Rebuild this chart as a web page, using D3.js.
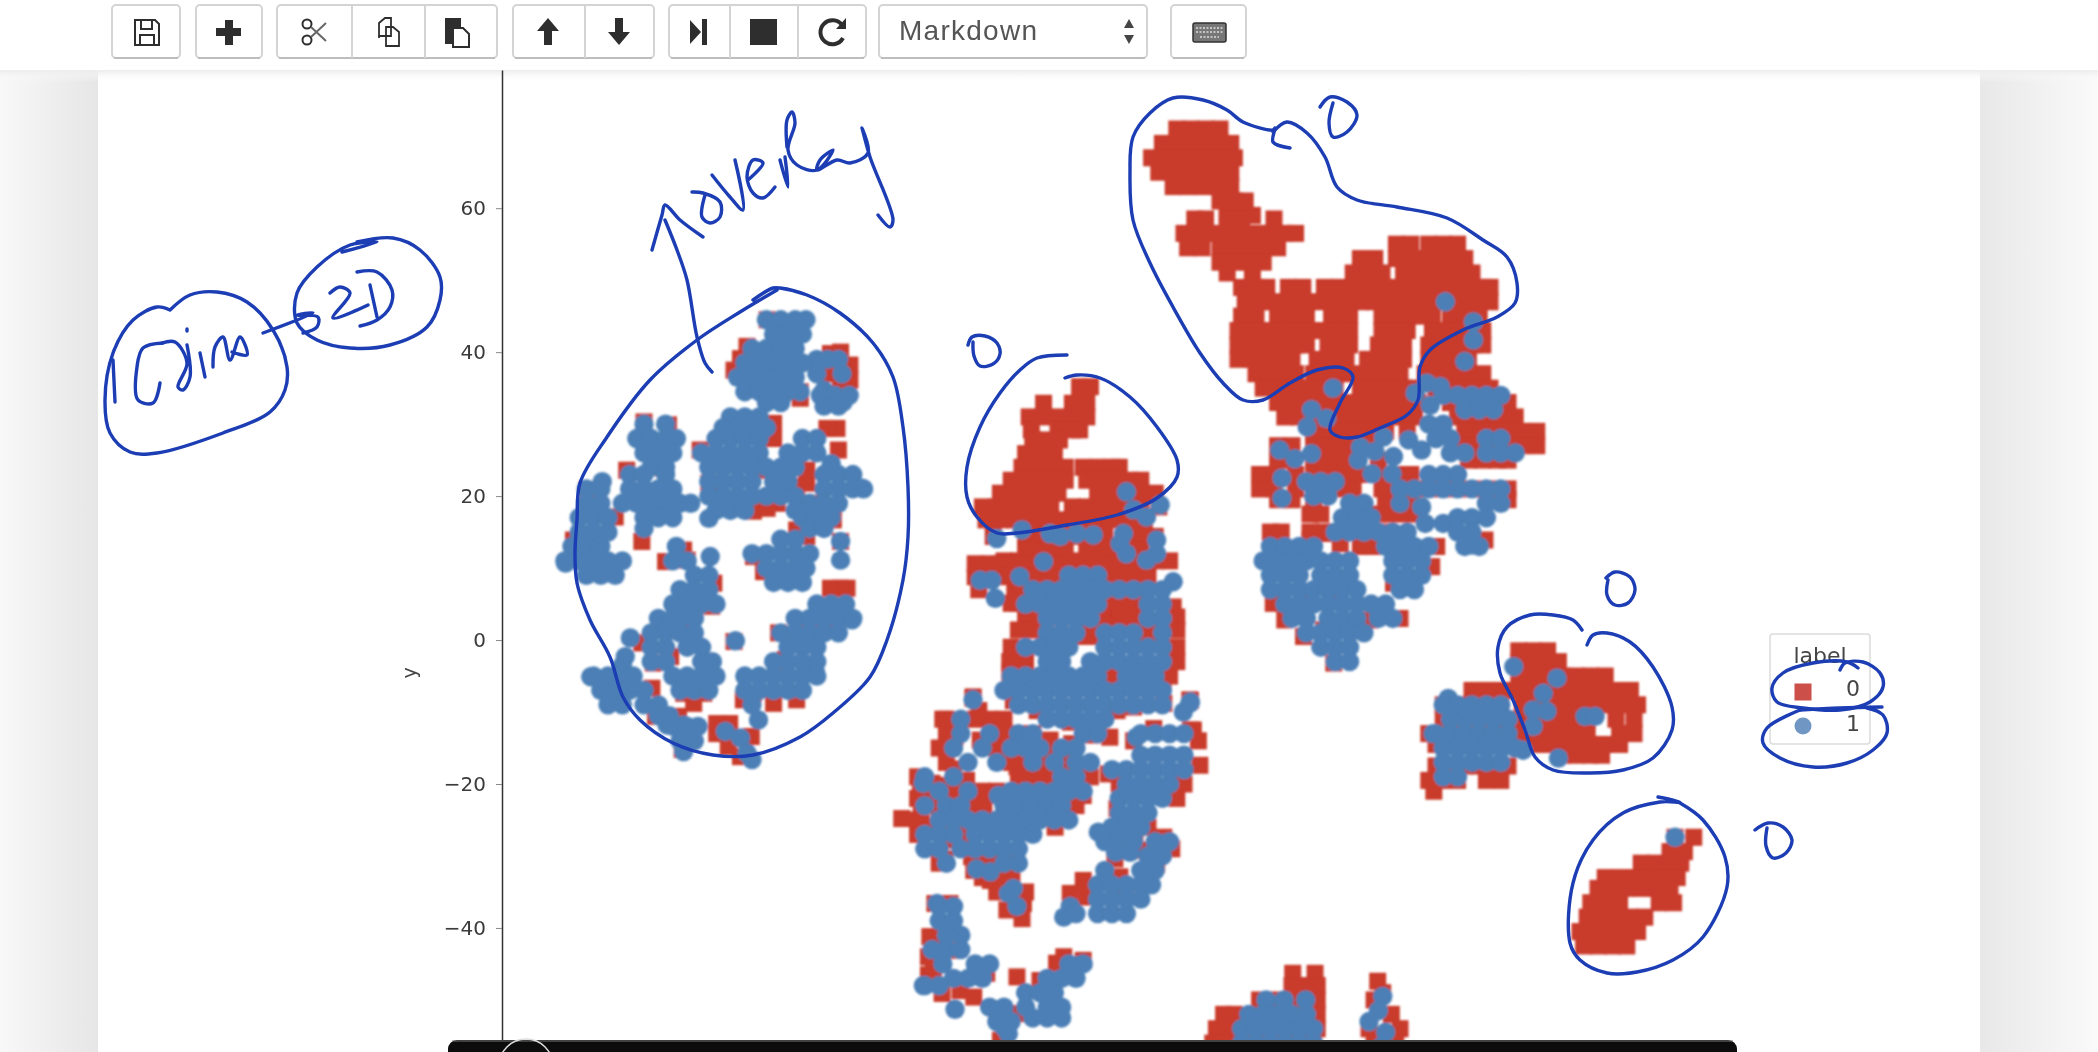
<!DOCTYPE html>
<html>
<head>
  <meta charset="utf-8">
  <title>t-SNE overlay</title>
  <script src="https://d3js.org/d3.v7.min.js"></script>
  <style>
    html, body { margin: 0; padding: 0; background: #fff; overflow: hidden; }
    svg { display: block; }
    text { font-family: "DejaVu Sans", sans-serif; }
  </style>
</head>
<body>
<svg id="chart" width="2098" height="1052"></svg>
<script>

var yTicks = [60, 40, 20, 0, -20, -40]
var legendLabels = ['0', '1']

// label 0, solid areas read row by row: [y, [x, x, ...]]
var redRowsTop = [
  [71,[19,21,23,25]], [69,[17,19,21,23,25,26.5]], [67,[15.5,17.5,19.5,21.5,23.5,25.5,27]],
  [65,[16.5,18.5,20.5,22.5,24.5,26.5]], [63,[18.5,20.5,22.5,24.5,26.5]], [61,[25,27,28.5]],
  [59,[26,28,29.5]], [58.5,[21.5,23,26,28,32.5]], [56.5,[20,22,24,26,28,30,32,34,35.5]],
  [54.5,[20.5,22.5,25,27,29,31,33]], [52.5,[25,27,29,31]], [51,[26,29.5]]
]
var redRowsUpper = [
  [55,[49.5,51.5,54,56,58]], [53,[44.5,46.5,49.5,51.5,53.5,55.5,57.5,59]],
  [51,[43.5,45.5,47.5,50.5,52.5,54.5,56.5,58.5,60]],
  [49,[28,30,31.5,34.5,36.5,39.5,41.5,43.5,45.5,47.5,49.5,51.5,53.5,55.5,57.5,59.5,61.5,62.5]],
  [47,[28.5,30.5,32.5,34.5,36.5,38.5,40.5,42.5,44.5,46.5,48.5,50.5,52.5,54.5,56.5,58.5,60.5,62.5]],
  [45,[28,30,33,35,37,40.5,42,43,47.5,49.5,51,52.5,54.5,57,59,61]],
  [43,[27.5,29.5,31.5,33.5,35.5,37.5,39.5,41.5,43,47.5,49.5,51,54.5,56.5,58.5,60.5,61.5]],
  [41,[27.5,29.5,31.5,33.5,35.5,37,40,42,43,47,49,50.5,54,56,58,60,61.5]],
  [39,[27.5,29.5,31.5,33.5,35,38.5,40.5,42.5,45.5,47,49,50.5,54,56,58,59.5]],
  [37,[30,32,34,35.5,38,40,42,44,46,48,50,53.5,55.5,57.5,59.5,61.5]],
  [35,[31,33,35,37,39,41,44.5,46.5,48.5,50.5,52,55,57,59,61,62.5]],
  [33,[33,35,37,39,41,43,45,47,49,51,52.5,57,59,61,63,65]],
  [31,[34,36,38,40,42,44,46,48,50,52,58,60,62,64,66]],
  [29,[38,40,42,44,46,48,51,59,61,63,65,67,69]],
  [27,[33,35,38,40,42,44,46,59,61,63,65,67,69]],
  [25,[33,35,38,40,42,44,47,59.5,61.5,63.5,65]],
  [23,[30.5,32.5,35.5,38,40,42,44,46,48,50,51.5]],
  [21,[30.5,32.5,35.5,38,42,43.5,47.5,49.5,51.5,53.5,55.5,57.5,59.5,61.5,63.5,65]],
  [19.5,[33,35,38,48,50,51.5,63,65]], [17.5,[37.5,39,46,48,50,52]],
  [15,[32,33.5,37.5,39.5,41,46,48]], [13,[44.5,46.5,48.5,50]]
]
var redLowerD = [
  [32.2,13.9],[32.4,5.1],[34,2.8],[36.6,0.5],[40.8,-3.2],[50,3],[45.8,2.8],[49.1,7.9],[54.4,10.2],
  [55.1,13],[36.6,11.6],[37,6],[39.4,1.4],[40.3,5.6],[37.5,13.9],[39.8,14.8],[41.7,13.4],[61.8,13.9]
]
var redRowsB = [
  [35.2,[5.5,7]], [32.9,[0.5,4.5,6.5]], [31,[-1.5,0.5,2.5,4.5,6.5]], [29.2,[-1.2,2.5,4.5,5.5]],
  [27.8,[-1,1,2.7]], [25.9,[-2,0,2]], [24,[-2.5,-0.5,1.5,3.5,6,8,10,11]],
  [22.2,[-4,-2,0,2,3.5,6.5,8.5,10.5,12.5,14]], [20.4,[-5.5,-3.5,-1.5,0.5,2.5,8,10,12,14,16]],
  [18.5,[-8,-6,-4,-2,0,1.5,4.5,6.5,8.5,10,12,14,16.5]],
  [16.7,[-7.5,-5.5,-3.5,-1.5,0.5,2.5,4.5,6.5,8.5,10.5,12.5,14.5]],
  [14.4,[-6.5,-2,0,2,3.5,5,7,9,12,14,16]], [12.5,[-2,0,2,3.5,6.5,8.5,10,12,14]],
  [11,[-5,-3,-1,1,3,5,7,9,14,16,18]], [10.6,[-9,-7,-5.5,-3.5,-1.5,0.5,2.5,10,12]], [9,[-5,-3,-1,1,3,9,11,13,15]],
  [8.8,[-9,-7,-4.5,-2.5]], [7,[-8.5,-3.5,-2.5,7,9]], [5.1,[-4,-3,-1,10,12,13]], [3.2,[-2,0,1.5,3,9,11,13,19]],
  [1.4,[-3,-1,7,9,15,19]], [-1,[-4,19]], [-3,[-4,-2,19]], [-5,[10,18]]
]
var redLowerB = [
  [5.1,0.5],[7.4,0.5],[13.9,0.5],[15.8,0.5],[-3.7,-1.9],[-4.2,-3],[-4.2,-4.5],[-4.2,-7],[-9.3,-7.9],
  [17.1,-6],[20.8,-8.3],[8.8,-5.1],[9.3,1.9],[11.1,3],[14.8,0],[14.6,4.2],[18.5,4.6]
]
var redC = [
  [-19.2,-24.8],[-16.6,-20.4],[-15,-19.9],[-14.1,-20.2],[-12,-22],[-10.2,-19.5],[-9,-23],[-7.8,-23],
  [-5.5,-21.6],[-8.5,-9.8],[-9.3,-8.1],[-11.8,-13.5],[-8.3,-13.9],[-6.9,-14.4],[-12,-17.9],[-3.2,-17.6],
  [-1.8,-17.2],[-2.8,-20.2],[4.4,-14.4],[1.4,-13.9],[1.6,-19.5],[6,-21.6],[-3.2,-25],[2.1,-26],[0.7,-24.6],
  [-13.2,-30.4],[-12.5,-27.8],[-16,-26],[-9.5,-30.1],[-9.2,-32],[-6.9,-33.4],[-5.1,-33.4],[-3.9,-32.9],
  [-4.6,-37.5],[-2.5,-38.7],[-2.3,-36.6],[9.5,-18.6],[10.7,-23.4],[13.9,-29.2],[10.4,-30.4],[13.2,-26.9],
  [17.2,-27.4],[18.3,-29],[16.2,-31.1],[6,-33.4],[4.2,-35.2],[6.5,-35.7],[11.1,-32.9],[11.8,-35.2],
  [15.8,-12.3],[20.9,-12.5],[22.2,-17.4],[20.9,-8.4],[21.3,-12.5],[-12.5,-36.6],[-14.6,-36.6],[-15,-42.2],
  [-15.3,-41.2],[-12.5,-43.1],[-14.8,-45.9],[-13.6,-49.1],[-11.1,-48.7],[-7.4,-46.3],[-9.2,-49.6],
  [-3.2,-46.8],[0,-47.3],[2.3,-44.9],[3.3,-44],[6,-44.5],[-3.2,-51.9],[-6,-51.2],[-5.5,-55.6],[-3.7,-8.4],
  [-3.7,-7],[-0.4,-9.8],[9.7,-13.5],[7.2,-13.2],[10.7,-9.8],[13,-9.3],[17.2,-8.8],[16.7,-6],[9.3,-6],
  [6.5,-6.3],[4.2,-11.4],[-17,-19],[-17,-22],[-16.5,-24],[-13.5,-11],[-12.5,-15],[-15.5,-44],[-15.5,-46.5]
]
var redRowsC = [
  [-11,[-13,-9,-7,-5]], [-13,[-13,-5,-3,-1]], [-14,[13,22]], [-15,[-14,-6,-4,-2,2]], [-17,[-13,-4,-2,0,4]],
  [-19,[-3,-1,1,3,7]], [-20,[11,20]], [-21,[-16,-12,-8,-6]], [-22,[19]], [-23,[-15,-13,-5,1,5]],
  [-25,[-17,-14,-11,-8]], [-26,[15]], [-27,[-17,-11]], [-31,[-14,-8,-6,-4]], [-33,[-8,-6,-4]], [-35,[-6,-4,-2]]
]
var redRowsE = [
  [-1.5,[66.5,68.5,70.5]], [-3,[66.5,68.5,70.5,72]], [-5,[66.5,68.5,70.5,72.5,74.5,76.5,78.5]],
  [-7,[60,62,64,66,68,70,72,74,76,78,80,82]], [-9,[56,58,60,62,64,67,69,71,73,75,77,79,81,83]],
  [-11,[56,58,60,62,64,66,68,70,72,74,76,80,82.5]], [-13,[54,56,58,60,62,64,66,68,70,72,74,76,80.5,82.5]],
  [-14.5,[55,57,59,61,63,65,67,68.5,70.5,72.5,74.5,76.5,78.5,80.5]], [-16,[72.5,74.5,76.5,78]],
  [-17.5,[55,57,59,61,63,65]], [-19.5,[54,56,58,62,64]], [-21,[54.7]]
]
var redRowsF = [
  [-27.4,[88.2,90.8]], [-29.4,[87.5,89.5]], [-31,[83.5,85.5,87.5,89]], [-33,[78.5,80.5,82.5,84.5,86.5,88.5]],
  [-34.5,[77.5,79.5,81.5,83.5,85.5,87.5]], [-36.5,[76.5,78.5,80.5,86,88]], [-38.5,[76,78,80,82,84]],
  [-40.5,[75,77,79,81,83]], [-42.5,[75.5,77.5,79.5,81.5]]
]
var redRowsBottom = [
  [-46.3,[35.1,38.2]], [-48,[35,37,38.5]], [-50,[30.5,32.5,34.5,36.5,38.5,46.4]], [-52,[25.5,27,30,32,34,36,38.5,48.8]],
  [-54,[24.5,26.5,28.5,30.5,34,36,38.5,45.7,50]], [-56,[24,26,28,30,32,34,36,38,46.4,49.4]], [-47.4,[46.9]], [-49,[47.6]]
]
var redA = [
  [-37.9,44.5],[-34.2,41.7],[-40.7,40.8],[-41.6,39.1],[-42.5,37.5],[-29.1,39.8],[-27.7,40],[-26.4,38.2],
  [-26.4,36.1],[-27.7,35.7],[-29.4,37],[-33.3,34.5],[-33.3,33.6],[-37,30.1],[-37,28],[-28.2,29.4],[-29.6,29.4],
  [-28,26.4],[-47.2,26.4],[-38.8,23.6],[-32.4,23.6],[-32.4,21.8],[-33.8,21.3],[-39.8,17.9],[-37.9,18.3],
  [-36.5,19],[-55,30.3],[-51.6,29.9],[-57.4,23.6],[-52.3,23.9],[-55.3,13.7],[-59,17.1],[-62.9,20.9],[-64.8,13.9],
  [-52,10.9],[-49.5,12.5],[-46,21.8],[-31.4,19],[-28.7,16.7],[-27.7,13.7],[-33.8,15.3],[-32.4,14.4],[-39.8,11.6],
  [-38.4,9.5],[-49,11.1],[-27.7,7.2],[-29.1,7.2],[-26.8,7.2],[-45.6,4.7],[-45.3,7.9],[-50.4,2.3],[-49,1.4],
  [-55.3,-0.4],[-42.5,-0.2],[-53.7,-3.2],[-51.3,-2.3],[-53.9,-6.7],[-49.5,-7.4],[-46.7,-7.4],[-48.1,-8.8],
  [-53.4,-10.6],[-50.2,-10.6],[-44.9,-11.6],[-43.1,-11.6],[-44.9,-13],[-43.3,-14.8],[-40.1,-13.4],[-41.6,-16.2],
  [-49.7,-15.2],[-41.2,-8.3],[-37,-8.8],[-33.8,-8.3],[-39.8,-7.4],[-36.3,1],[-36.1,-3.2],[-35.4,-2.7],[-32.8,2.6],
  [-31.2,2.4],[-29.4,2.8]
]

// label 1, single points
var blueA = [
  [-33.3,34.5],[-30,34.7],[-27.3,33.1],[-27.7,11.1],[-27.7,13.7],[-46,16.9],[-24.7,21.1],[-60.8,22],[-45.8,11.6],[-42.3,-0.1],
  [-56.9,0.3],[-57.6,-2.3],[-43.7,-12.7],[-41.6,-13.6],[-40.7,-15.7],[-40,-16.6],[-39.1,-11.1],[-40,-9],[-49.5,-11.8],[-51.8,-11.8],
  [-31.2,-4.4],[-26.1,2.8],[-65.9,10.7],[-62.4,-5.1]
]
var blueB = [[-6,14.1],[-2.5,15.3],[1.4,14.8],[2.8,14.4],[5.1,14.8],[7.4,14.6],[12,20.6],[13,18.1],[14.8,17.1],[16.7,18.8],[11.1,13.4],
  [11.6,14.8],[12,12],[16.2,13.9],[16.2,12],[14.8,11.1],[-8.3,8.3],[-6.7,8.3],[-6.2,5.8],[0.5,10.9],[-2.8,8.8],[18.5,8.1],[20.8,-8.8],[-9.3,-8.3]
]
var blueC = [
  [-16.2,-19.9],[-5.8,-21.6],[8.1,-26.7],[13.4,-13.5],[-14.3,-36.6],[-11.8,-51.3],[5.3,-45.2],[4.2,-37],[3.3,-38.5],[-16.2,-48],
  [-8.8,-31.8],[-6.9,-32.2],[-4.4,-35.2],[-3.2,-37],[-3.7,-34.5],[-5.1,-53.7],[-4.4,-54.7],[19.9,-10],[20.9,-8.6],[17.2,-28.3]
]
var blueD = [
  [56.3,47],[60.2,44.2],[60.2,41.7],[59,38.7],[40.7,35],[37.7,32],[39.8,30.8],[37.1,29.6],[33.3,26.4],[35.4,25.2],[37.7,25.9],
  [44.5,26.8],[46.5,26.2],[44.2,25],[49.1,25.5],[47.7,28.2],[51.2,27.8],[53,26.4],[54.2,32.6],[33.6,22.5],[33.6,19.7],[46.1,23.1],
  [48.9,23.1],[53,18.5],[53.5,16.2],[56,16.2],[60,13.2],[52.1,34.3],[53.7,35.7],[55.6,35.2]
]
var blueE = [[56.7,-8.1],[65.8,-3.7],[71.8,-5.3],[69.9,-7.4],[68.5,-9.7],[70.4,-9.9],[75.7,-10.6],[77.1,-10.6],[72,-16.4],[68.5,-12],[54.6,-13],[67.1,-15.3]]
var blueF = [[88.2,-27.4]]

// label 1, dense blobs read row by row
var blueRowsA = [
  [44.5,[-38,-36,-34,-32.5]], [42.5,[-37,-35,-33]], [40.5,[-40,-38,-36,-34]], [39,[-31,-29.5,-28]],
  [38.5,[-41,-39,-37,-35,-33]], [37,[-31,-27.5]], [36.5,[-42,-40,-38,-36,-34]], [34.5,[-41,-39,-37,-35]],
  [34,[-30.5,-28.5,-26.5]], [33,[-38,-36]], [32.5,[-30,-28]], [31,[-43,-41,-39]], [29.5,[-44,-42,-40,-38]],
  [30,[-55,-52]], [28,[-45,-43,-41,-39,-33,-31,-56,-54,-52,-50.5]], [26,[-47,-45,-43,-41,-39,-35,-33,-31,-55,-53,-51]],
  [24.5,[-29]], [24,[-46,-44,-42,-40,-38,-36,-34,-54,-52]], [23,[-30,-28,-26,-57,-55,-52]],
  [22,[-46,-44,-42,-40,-37,-35]], [21,[-30,-28,-26,-24.5,-57,-55,-53,-51,-61,-63]],
  [20,[-46,-44,-42,-40,-38,-36,-34]], [19,[-32,-30,-28,-58,-56,-54,-52,-50,-48.5,-63,-61]],
  [18,[-45,-43,-41,-34,-32]], [17,[-33,-31,-29,-55,-53,-51,-64,-62,-60]], [15.5,[-32,-30,-55]],
  [15,[-64,-62,-60]], [14,[-36,-34]], [13,[-65,-63,-61,-50.5]], [12,[-40,-38,-36,-34,-32]],
  [11,[-66,-64,-62,-60,-58,-51,-49]], [10,[-38,-36,-34,-32.5]], [9,[-63,-61,-59,-48,-46]], [8,[-37,-35,-33]],
  [7,[-50,-48,-46]], [5,[-51,-49,-47,-45,-31,-29,-27]], [3,[-50,-48,-53,-51,-34,-32,-30,-28,-26]],
  [1,[-54,-52,-50,-48,-36,-34,-32,-30,-28]], [-1,[-54,-52,-49,-47,-35,-33,-31]], [-3,[-54,-52,-47,-45.5,-37,-35,-33,-31]],
  [-3.5,[-58]], [-5,[-51,-49,-47,-45,-62,-60,-58,-56.5,-41,-39,-37,-35,-33,-31]], [-7,[-50,-48,-46,-61,-59,-57,-55,-41,-39,-37,-35,-33]],
  [-9,[-60,-58,-55,-53]], [-10.5,[-53,-51.5]], [-12,[-51,-49,-47.5]], [-14,[-50,-48]], [-15.5,[-49.5]]
]
var blueRowsB = [
  [9,[4,6,8]], [7,[-1,1,3,5,7,9,11,13,15,17]], [5,[-2,0,2,4,6,8,15,17]], [3,[1,3,5,7,15,17]],
  [1,[1,3,5,9,11,13,17]], [-1,[-2,0,2,4,9,11,13,15,17]], [-3,[1,3,7,9,11,13,15,17]],
  [-5,[-4,-2,0,2,4,6,8,12,14,16]], [-7,[-5,-3,-1,1,3,5,7,9,11,13,15,17]], [-9,[-3,-1,1,3,5,7,9,11,13,15,17]]
]
var blueRowsC = [
  [-11,[-11,1,3,5,7,9]], [-13,[-11,-7,-3,-1,6,8,14,16,18,20]], [-15,[-12,-8,-4,-2,0,3,5]],
  [-16,[14,16,18,20]], [-17,[-10,-6,-1,2,5,7]], [-18,[10,12,14,16,18,20]], [-19,[-16,-12,3,5]],
  [-20,[12,14,16,18]], [-21,[-14,-10,-4,-2,0,2,4,6]], [-22,[11,13,15,17]], [-23,[-16,-13,-11,-5,-3,-1,1,3]],
  [-24,[11,13,15]], [-25,[-14,-12,-10,-8,-6,-4,-2,0,2,4]], [-26,[10,12,14]], [-27,[-16,-14,-12,-9,-7,-5,-3,-1]],
  [-28,[9,11,13,16,18]], [-29,[-16,-14,-11,-9,-7,-5,-3]], [-29.5,[10.5,12.5]], [-30,[15,17]], [-31,[-13,-5,-3]],
  [-32,[9,14,16]], [-34,[8,10,12,14,15.5]], [-36,[8,10,12,14]], [-38,[5,8,10,12]],
  [-37,[-14,-12]], [-39,[-14,-12]], [-41,[-13,-11]], [-43,[-15,-13,-11]], [-45,[-13.5,-9,-7,4,6]],
  [-47,[-12,-10,-8,1,3,5]], [-48,[-16,-14]], [-49,[-2,0,2]], [-51,[-7,-5,-2,1,3]], [-52.5,[-1,1,3]], [-53,[-6,-4]]
]
var blueRowsD = [
  [34,[56,58,60,62,64]], [32,[59,61,63]], [30,[54,56]], [28,[55,57,62,64]], [26,[57,59,62,64,66]],
  [23,[54,56,58]], [22,[37,39,41]], [21,[50,52,54,56,58,60,62,64]], [20,[38,40]], [19,[43,45,50,62,64]],
  [17,[42,44,46,58,60,62]], [15,[41,43,45,47,49,51,58,60]], [13,[32,34,36,38,48,50,52,54,59,61]],
  [11,[31,33,35,37,39,41,43,49,51,53]], [9,[32,34,36,39,41,43,49,51,53]], [7,[32,34,36,38,40,42,44,50,52]],
  [5,[34,36,38,40,42,44,46,48]], [3,[35,37,40,42,44,47,49]], [1,[37,39,41,43,45]], [-1,[39,41,43]], [-3,[41,43]]
]
var blueRowsE = [
  [-9,[56,58,60,62,64]], [-11,[57,59,61,63,65]], [-13,[55,57,59,61,63,65]],
  [-15,[56,58,60,62,64,66]], [-17,[56,58,60,62,64]], [-19,[56,58]]
]
var blueRowsBottom = [
  [-50,[31.4,36.9,33.9]], [-52,[29,31,33,35,37]], [-54,[28,30,32,34,36,38]], [-56,[28,30,32,34,36,38]],
  [-49.5,[47.6]], [-51.5,[47]], [-53,[45.7]], [-54.5,[48]], [-56.5,[47.4]]
]

function rows(list) {
  return list.flatMap((r) => r[1].map((x) => [x, r[0]]))
}

var labelZero = rows(redRowsTop).concat(rows(redRowsUpper), redLowerD, rows(redRowsB), redLowerB, redC, rows(redRowsC),
  rows(redRowsE), rows(redRowsF), rows(redRowsBottom), redA)
var labelOne = blueA.concat(blueB, blueC, blueD, blueE, blueF, rows(blueRowsA), rows(blueRowsB), rows(blueRowsC),
  rows(blueRowsD), rows(blueRowsE), rows(blueRowsBottom))

// pen annotations on top of the notebook, screen pixels
var inkStrokes = [
  // big oval left cluster
  [[753,300],[773,288],[780,288],[807,295],[840,313],[873,343],[893,377],[903,427],[908,487],[908,537],[903,580],[887,640],[870,677],[833,713],[800,737],[753,755],[713,755],[673,743],[640,720],[623,697],[610,657],[590,620],[577,583],[575,553],[577,520],[580,483],[607,437],[650,380],[697,340],[740,312],[777,290]],
  // arrow + overlay
  [[665,220],[677,250],[687,280],[697,337],[705,363],[712,372]],
  [[652,250],[662,215],[665,205],[680,220],[703,237]],
  [[692,192],[703,193],[720,202],[720,217],[710,223],[702,217],[705,195]],
  [[712,175],[730,197],[743,210],[735,160]],
  [[748,180],[763,163],[753,160],[747,177],[753,193],[763,198],[775,187]],
  [[780,160],[788,187],[785,157]],
  [[787,147],[787,120],[792,112],[795,123],[788,150],[797,165],[817,170],[833,150],[820,160],[817,170],[837,160],[850,163],[868,153],[862,128],[870,157],[893,220],[890,227],[878,215]],
  // 15 dim
  [[170,310],[157,307],[133,320],[113,353],[105,400],[110,433],[130,452],[157,453],[223,433],[270,412],[285,390],[287,367],[273,330],[247,302],[217,292],[190,295],[170,310]],
  [[113,360],[115,402]],
  [[163,343],[143,348],[137,367],[138,400],[153,403],[160,383]],
  [[162,343],[175,342],[187,363],[178,387],[183,390],[190,377],[187,345]],
  [[187,329],[187,331]],
  [[200,353],[205,377]],
  [[213,367],[215,347],[223,337],[230,360],[240,337],[247,355],[232,352]],
  [[263,333],[313,313],[297,315],[318,317],[317,327],[303,333]],
  // 2D
  [[342,252],[377,242],[350,245],[317,267],[297,293],[297,323],[317,340],[350,348],[390,345],[427,327],[440,300],[440,277],[420,250],[393,238],[357,242]],
  [[330,293],[340,287],[350,293],[333,318],[368,305]],
  [[357,272],[377,272],[392,290],[390,307],[377,320],[360,326]],
  [[370,285],[377,317]],
  // 0 and oval, middle cluster
  [[968,345],[972,337],[985,336],[997,343],[1000,354],[993,364],[980,366],[974,356],[973,342]],
  [[1065,378],[1077,375],[1100,378],[1130,397],[1157,427],[1177,460],[1177,477],[1157,498],[1117,515],[1067,525],[1017,533],[997,533],[977,517],[967,497],[967,467],[980,427],[1000,393],[1020,370],[1037,358],[1067,355]],
  // top right blob
  [[1290,148],[1273,142],[1275,128],[1273,130],[1243,122],[1227,110],[1203,100],[1173,98],[1150,113],[1133,137],[1130,173],[1133,220],[1150,263],[1173,307],[1200,353],[1223,383],[1243,400],[1263,400],[1290,383],[1317,370],[1343,368],[1353,377],[1340,403],[1330,430],[1340,437],[1357,437],[1380,428],[1407,415],[1418,400],[1420,367],[1430,350],[1463,330],[1497,317],[1515,303],[1517,283],[1507,257],[1483,240],[1447,218],[1397,207],[1357,200],[1337,187],[1325,157],[1307,133],[1287,122],[1273,132]],
  [[1320,107],[1330,97],[1347,102],[1357,115],[1347,132],[1333,137],[1329,123],[1333,103]],
  // right clusters
  [[1606,578],[1615,572],[1630,577],[1635,590],[1628,603],[1615,605],[1607,595],[1608,580]],
  [[1582,630],[1573,620],[1553,615],[1530,615],[1507,627],[1498,647],[1500,673],[1513,700],[1525,730],[1535,757],[1553,770],[1590,773],[1623,770],[1653,758],[1672,730],[1672,707],[1653,667],[1630,642],[1607,633],[1593,635],[1587,645]],
  [[1658,797],[1680,802],[1660,802],[1623,813],[1593,840],[1573,883],[1570,943],[1580,960],[1607,973],[1637,972],[1673,960],[1703,937],[1727,887],[1725,857],[1703,820],[1680,803]],
  [[1755,830],[1768,823],[1783,827],[1792,840],[1786,853],[1773,858],[1766,846],[1767,828]],
  // legend
  [[1840,670],[1845,663],[1863,662],[1880,673],[1883,687],[1870,702],[1840,710],[1803,708],[1777,702],[1772,688],[1783,673],[1813,663],[1847,662],[1858,668]],
  [[1800,710],[1840,708],[1882,707]],
  [[1867,708],[1883,715],[1887,733],[1873,750],[1847,763],[1813,767],[1780,758],[1763,743],[1767,728],[1800,710]]
]

var svg = d3.select('#chart')

var x = d3.scaleLinear().domain([0, 100]).range([1040, 1760])
var y = d3.scaleLinear().domain([79.2, -56.4]).range([70, 1046])

// page background
var defs = svg.append('defs')
var shL = defs.append('linearGradient').attr('id', 'shL')
shL.append('stop').attr('offset', 0).attr('stop-color', '#f8f8f8')
shL.append('stop').attr('offset', 1).attr('stop-color', '#e6e6e6')
var shR = defs.append('linearGradient').attr('id', 'shR')
shR.append('stop').attr('offset', 0).attr('stop-color', '#e8e8e8')
shR.append('stop').attr('offset', 1).attr('stop-color', '#fafafa')
var shT = defs.append('linearGradient').attr('id', 'shT').attr('x2', 0).attr('y2', 1)
shT.append('stop').attr('offset', 0).attr('stop-color', '#ececec')
shT.append('stop').attr('offset', 1).attr('stop-color', '#ffffff').attr('stop-opacity', 0)
defs.append('filter').attr('id', 'soft').append('feGaussianBlur').attr('stdDeviation', 0.8)
defs.append('filter').attr('id', 'softer').append('feGaussianBlur').attr('stdDeviation', 0.45)

svg.append('rect').attr('width', 98).attr('height', 1052).attr('fill', 'url(#shL)')
svg.append('rect').attr('x', 1980).attr('width', 118).attr('height', 1052).attr('fill', 'url(#shR)')
svg.append('rect').attr('y', 70).attr('width', 2098).attr('height', 12).attr('fill', 'url(#shT)')

// scatter, red squares under blue circles
var plot = svg.append('g').attr('filter', 'url(#soft)')
plot.selectAll('rect.zero').data(labelZero).enter().append('rect')
  .attr('class', 'zero')
  .attr('x', (d) => x(d[0]) - 8.5)
  .attr('y', (d) => y(d[1]) - 8.5)
  .attr('width', 17)
  .attr('height', 17)
  .attr('fill', '#c93a2b')
plot.selectAll('circle.one').data(labelOne).enter().append('circle')
  .attr('class', 'one')
  .attr('cx', (d) => x(d[0]))
  .attr('cy', (d) => y(d[1]))
  .attr('r', 9.7)
  .attr('fill', '#4b7fb5')

// y axis
var axis = svg.append('g').attr('transform', 'translate(502,0)').attr('filter', 'url(#softer)')
  .call(d3.axisLeft(y).tickValues(yTicks).tickSizeInner(6).tickSizeOuter(0).tickPadding(10).tickFormat(d3.format('d')))
axis.selectAll('text').attr('font-size', 20).attr('fill', '#3a3a3a').attr('font-family', '"DejaVu Sans", sans-serif')
axis.selectAll('.tick line').attr('stroke', '#888').attr('stroke-width', 1)
axis.select('.domain').attr('stroke', '#333').attr('stroke-width', 1.5)

svg.append('text').attr('transform', 'translate(416,673) rotate(-90)')
  .attr('text-anchor', 'middle').attr('font-size', 19).attr('fill', '#444').attr('filter', 'url(#softer)').text('y')

// legend
var legend = svg.append('g').attr('filter', 'url(#softer)')
legend.append('rect').attr('x', 1770).attr('y', 634).attr('width', 100).attr('height', 110).attr('rx', 3)
  .attr('fill', '#fff').attr('stroke', '#dcdcdc').attr('stroke-width', 1.5)
legend.append('text').attr('x', 1820).attr('y', 663).attr('text-anchor', 'middle').attr('font-size', 22).attr('fill', '#444').text('label')
legend.append('rect').attr('x', 1794.5).attr('y', 683.5).attr('width', 17).attr('height', 17).attr('fill', '#cc4f48')
legend.append('circle').attr('cx', 1803).attr('cy', 726).attr('r', 8.5).attr('fill', '#6f97c4')
legend.selectAll('text.lab').data(legendLabels).enter().append('text').attr('class', 'lab')
  .attr('x', 1853).attr('y', (d, i) => 696 + i * 35)
  .attr('text-anchor', 'middle').attr('font-size', 22).attr('fill', '#444').text((d) => d)

// pen strokes
var ink = d3.line().curve(d3.curveCatmullRom.alpha(0.5))
svg.append('g').attr('filter', 'url(#softer)').selectAll('path').data(inkStrokes).enter().append('path')
  .attr('d', ink)
  .attr('fill', 'none')
  .attr('stroke', '#1a3db4')
  .attr('stroke-width', 3.4)
  .attr('stroke-linecap', 'round')
  .attr('stroke-linejoin', 'round')

// notebook toolbar
var bar = svg.append('g')
bar.append('rect').attr('width', 2098).attr('height', 70).attr('fill', '#fff')

var groups = [
  {x: 112, w: 68, div: []},
  {x: 196, w: 66, div: []},
  {x: 277, w: 220, div: [352, 425]},
  {x: 513, w: 141, div: [585]},
  {x: 669, w: 197, div: [730, 798]},
  {x: 879, w: 268, div: []},
  {x: 1171, w: 75, div: []}
]
var btn = bar.append('g').attr('filter', 'url(#softer)')
groups.forEach((g) => {
  btn.append('rect').attr('x', g.x).attr('y', 5).attr('width', g.w).attr('height', 53).attr('rx', 4)
    .attr('fill', '#fff').attr('stroke', '#d4d4d4').attr('stroke-width', 2)
  btn.append('line').attr('x1', g.x + 2).attr('x2', g.x + g.w - 2).attr('y1', 58).attr('y2', 58)
    .attr('stroke', '#bdbdbd').attr('stroke-width', 2)
  g.div.forEach((dx) => {
    btn.append('line').attr('x1', dx).attr('x2', dx).attr('y1', 5).attr('y2', 58).attr('stroke', '#d4d4d4').attr('stroke-width', 2)
  })
})

var icon = '#2f2f2f'
// save
btn.append('path').attr('d', 'M135 20h20l4 4v21h-24z M141 20v9h11v-9 M140 45v-10h14v10').attr('fill', 'none').attr('stroke', icon).attr('stroke-width', 2)
// plus
btn.append('path').attr('d', 'M225 20h8v8h8v8h-8v9h-8v-9h-9v-8h9z').attr('fill', icon)
// cut
btn.append('circle').attr('cx', 307).attr('cy', 40).attr('r', 4.5).attr('fill', 'none').attr('stroke', icon).attr('stroke-width', 2)
btn.append('circle').attr('cx', 307).attr('cy', 24).attr('r', 4.5).attr('fill', 'none').attr('stroke', icon).attr('stroke-width', 2)
btn.append('path').attr('d', 'M311 27l15 14M311 37l15 -14').attr('stroke', '#666').attr('stroke-width', 2)
// copy
btn.append('path').attr('d', 'M379 38v-15l6 -5h6v18h-12 M386 27h7l6 5v14h-13z').attr('fill', '#fff').attr('stroke', icon).attr('stroke-width', 1.8)
// paste
btn.append('path').attr('d', 'M445 18h16v26h-16z').attr('fill', icon)
btn.append('path').attr('d', 'M453 28h10l6 6v13h-16z').attr('fill', '#fff').attr('stroke', icon).attr('stroke-width', 2)
// up, down
btn.append('path').attr('d', 'M548 18l11 13h-7v14h-8v-14h-7z').attr('fill', icon)
btn.append('path').attr('d', 'M619 45l-11 -13h7v-14h8v14h7z').attr('fill', icon)
// step, stop, restart
btn.append('path').attr('d', 'M690 20l11 12l-11 12z M702 19h5v26h-5z').attr('fill', icon)
btn.append('rect').attr('x', 750).attr('y', 19).attr('width', 27).attr('height', 26).attr('fill', icon)
btn.append('path').attr('d', 'M842 25a12 12 0 1 0 1 13').attr('fill', 'none').attr('stroke', icon).attr('stroke-width', 4)
btn.append('path').attr('d', 'M846 18v11h-10z').attr('fill', icon)
// cell type select
btn.append('text').attr('x', 899).attr('y', 40).attr('font-size', 28)
  .attr('fill', '#555').attr('style', 'font-family:"Liberation Sans",sans-serif').attr('textLength', 138).text('Markdown')
btn.append('path').attr('d', 'M1129 19l5 9h-10z M1129 44l-5 -9h10z').attr('fill', '#444')
// keyboard
btn.append('rect').attr('x', 1193).attr('y', 23).attr('width', 33).attr('height', 19).attr('rx', 2).attr('fill', '#777').attr('stroke', '#333').attr('stroke-width', 1.5)
btn.append('path').attr('d', 'M1196 28h27M1196 32h27M1200 37h19').attr('stroke', '#ddd').attr('stroke-width', 1.5).attr('stroke-dasharray', '2 1.5')

// video player bar at the bottom
svg.append('path').attr('d', 'M448 1052v-3a9 9 0 0 1 9 -9h1271a9 9 0 0 1 9 9v3z').attr('fill', '#0c0c0c')
svg.append('line').attr('x1', 452).attr('x2', 1733).attr('y1', 1041).attr('y2', 1041).attr('stroke', '#777').attr('stroke-width', 1)
svg.append('circle').attr('cx', 526).attr('cy', 1066).attr('r', 27).attr('fill', 'none').attr('stroke', '#ddd').attr('stroke-width', 1.5)

</script>
</body>
</html>
